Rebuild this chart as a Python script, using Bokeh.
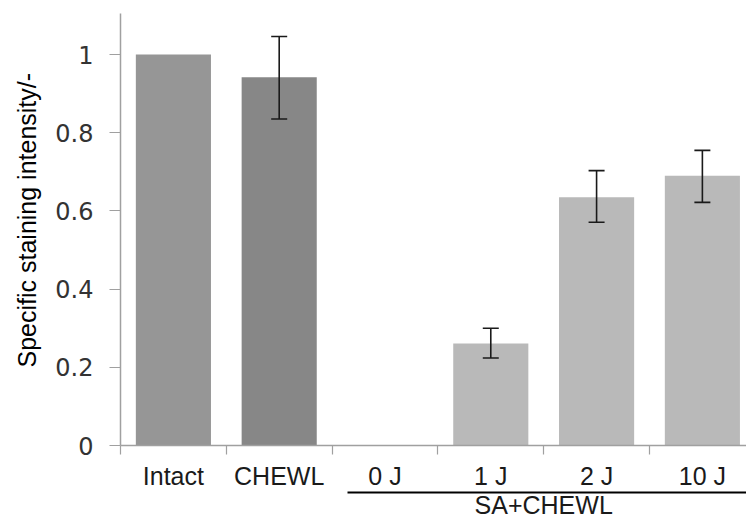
from bokeh.plotting import figure
from bokeh.models import (ColumnDataSource, FixedTicker, LinearAxis, Range1d,
                          Whisker, TeeHead, Title)
from bokeh.embed import file_html
from bokeh.resources import INLINE

# ---- data ----
categories = ["Intact", "CHEWL", "0 J", "1 J", "2 J", "10 J"]
values = [1.0, 0.942, 0.0, 0.261, 0.635, 0.69]
err_upper = [None, 1.046, None, 0.300, 0.703, 0.755]
err_lower = [None, 0.835, None, 0.224, 0.571, 0.622]
bar_colors = ["#969696", "#878787", "#b9b9b9", "#b9b9b9", "#b9b9b9", "#b9b9b9"]
group_label = "SA+CHEWL"
group_members = ["0 J", "1 J", "2 J", "10 J"]
y_ticks = [0, 0.2, 0.4, 0.6, 0.8, 1.0]
y_tick_labels = ["0", "0.2", "0.4", "0.6", "0.8", "1"]
y_title = "Specific staining intensity/-"

xs = list(range(len(categories)))
src = ColumnDataSource(dict(x=xs, top=values, color=bar_colors))

ex = [xs[i] for i in range(len(xs)) if err_upper[i] is not None]
eu = [err_upper[i] for i in range(len(xs)) if err_upper[i] is not None]
el = [err_lower[i] for i in range(len(xs)) if err_upper[i] is not None]
esrc = ColumnDataSource(dict(x=ex, upper=eu, lower=el))

p = figure(width=746, height=521, output_backend="svg", toolbar_location=None,
           x_range=Range1d(-0.5, 5.417), y_range=Range1d(0, 1.105),
           min_border_left=120, min_border_right=0, min_border_top=13,
           min_border_bottom=0)
p.outline_line_color = None
p.grid.visible = False
p.background_fill_color = "white"

p.vbar(x="x", top="top", width=0.71, bottom=0, source=src,
       fill_color="color", line_color=None)

w = Whisker(base="x", upper="upper", lower="lower", source=esrc,
            line_color="#1a1a1a", line_width=1.6, level="overlay",
            upper_head=TeeHead(size=16, line_color="#1a1a1a", line_width=1.6),
            lower_head=TeeHead(size=16, line_color="#1a1a1a", line_width=1.6))
p.add_layout(w)

# y axis
ya = p.yaxis[0]
ya.ticker = FixedTicker(ticks=y_ticks, minor_ticks=[])
ya.major_label_overrides = {t: l for t, l in zip(y_ticks, y_tick_labels)}
ya.axis_line_color = "#a0a0a0"
ya.axis_line_width = 1.5
ya.major_tick_line_color = "#a0a0a0"
ya.major_tick_line_width = 1.2
ya.major_tick_out = 11
ya.major_tick_in = 0
ya.minor_tick_line_color = None
ya.major_label_text_font = "DejaVu Sans"
ya.major_label_text_font_size = "24px"
ya.major_label_text_color = "#333333"
ya.major_label_standoff = 16

# x axis: labels at centres, tick marks at category edges
xa = p.xaxis[0]
edges = [x - 0.5 for x in xs] + [xs[-1] + 0.5]
xa.ticker = FixedTicker(ticks=xs, minor_ticks=edges)
xa.major_label_overrides = {x: c for x, c in zip(xs, categories)}
xa.axis_line_color = "#a0a0a0"
xa.axis_line_width = 1.5
xa.major_tick_out = 0
xa.major_tick_in = 0
xa.major_tick_line_color = None
xa.minor_tick_out = 9
xa.minor_tick_in = 0
xa.minor_tick_line_color = "#a0a0a0"
xa.minor_tick_line_width = 1.2
xa.major_label_text_font = "Liberation Sans"
xa.major_label_text_font_size = "25px"
xa.major_label_text_color = "#1a1a1a"
xa.major_label_standoff = 7

# group axis with underline
gidx = [categories.index(g) for g in group_members]
gcenter = sum(gidx) / len(gidx)
ga = LinearAxis(ticker=FixedTicker(ticks=[gcenter], minor_ticks=[]),
                major_label_overrides={gcenter: group_label},
                bounds=(gidx[0] - 0.355, gidx[-1] + 0.6),
                axis_line_color="black", axis_line_width=2,
                major_tick_out=0, major_tick_in=0, major_tick_line_color=None,
                minor_tick_line_color=None,
                major_label_text_font="Liberation Sans",
                major_label_text_font_size="25px",
                major_label_text_line_height=0.8,
                major_label_text_color="#1a1a1a",
                major_label_standoff=-2)
p.add_layout(ga, "below")

# y-axis title
t = Title(text=y_title, align="left", offset=78, vertical_align="middle",
          text_font="Liberation Sans", text_font_size="25px",
          text_line_height=1.0,
          text_font_style="normal", text_color="black", standoff=22)
p.add_layout(t, "left")

open("out.html", "w").write(file_html(p, INLINE))
